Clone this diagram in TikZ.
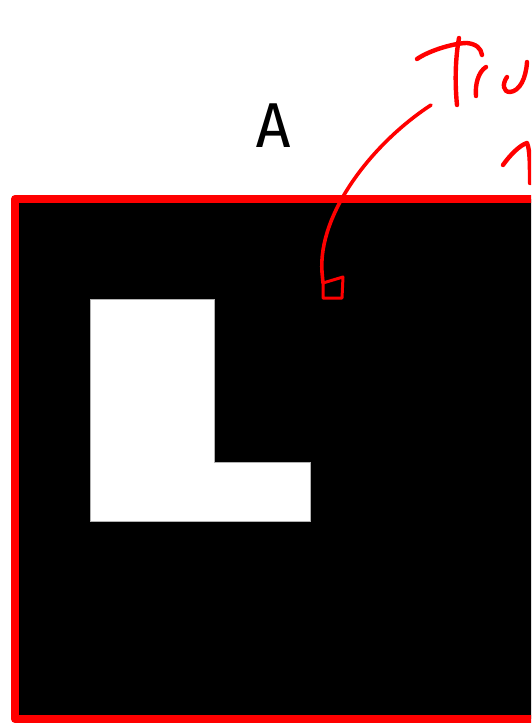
\documentclass[tikz,border=0pt]{standalone}
\usepackage{fontspec}
\newfontfamily\monofont{DejaVu Sans Mono}
\usetikzlibrary{positioning}
\definecolor{inkred}{RGB}{255,0,0}
\tikzset{
    redframe/.style={
        line width=8pt,
        inkred,
        fill=black,
        line join=round
    },
    % white L shape
    lshape/.style={
        fill=white,
        draw=gray!60,
        line width=0.5pt
    },
    scribble/.style={
        line width=4.4pt,
        inkred,
        line cap=round,
        line join=round
    }
}
\begin{document}
\begin{tikzpicture}[x=1pt, y=-1pt]
	\useasboundingbox (0,0) rectangle (531,724);
	\clip (0,0) rectangle (531,724);
	\fill[white] (0,0) rectangle (531,724);

	\draw[redframe] (15,199) rectangle (535.5,719);
	\draw[lshape] (90,299) -- (214,299) -- (214,462) -- (310,462) -- (310,521) -- (90,521) -- cycle;

	\node[anchor=base, inner sep=0pt, font=\monofont\fontsize{60}{60}\selectfont] (label) at (274,147) {A};

	% pointer with small box
	\coordinate (tail) at (431,105);
	\coordinate (hook) at (323,283);
	\draw[scribble, line width=3.6pt] (tail) .. controls (370,145) and (318,215) .. (322,272) -- (hook);
	\draw[scribble, line width=3pt, line cap=butt] (hook) -- (343,277) -- (342,298) -- (323,298) -- cycle;

	% handwriting
	\draw[scribble] (417,59) .. controls (430,50) and (455,43) .. (467,43) .. controls (476,44) and (481,48) .. (482,55);
	\draw[scribble] (459,38) .. controls (455,60) and (455,85) .. (457,105);
	\draw[scribble] (476,96) .. controls (475,85) and (478,72) .. (486,67);
	\draw[scribble] (507,77) .. controls (502,84) and (503,92) .. (510,92) .. controls (520,91) and (526,78) .. (527,62);
	\draw[scribble] (503,165) .. controls (510,155) and (520,145) .. (527,143) .. controls (530,150) and (530,165) .. (530,183);
\end{tikzpicture}
\end{document}
